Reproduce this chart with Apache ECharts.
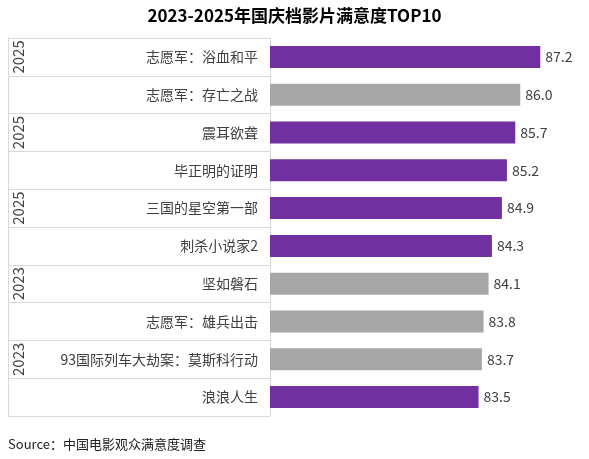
<!DOCTYPE html><html><head><meta charset="utf-8"><script src="https://cdn.jsdelivr.net/npm/echarts@6/dist/echarts.min.js"></script></head><body style="margin:0"><div id="c" style="width:589px;height:459px"></div><script>
const names=['志愿军：浴血和平','志愿军：存亡之战','震耳欲聋','毕正明的证明','三国的星空第一部','刺杀小说家2','坚如磐石','志愿军：雄兵出击','93国际列车大劫案：莫斯科行动','浪浪人生'];
const years=['2025','2024','2025','2025','2025','2025','2023','2023','2023','2025'];
const scores=[87.2,86.0,85.7,85.2,84.9,84.3,84.1,83.8,83.7,83.5];
const colors={'2025':'#7030a0','2024':'#a6a6a6','2023':'#a6a6a6'};
const ch=echarts.init(document.getElementById('c'));
const f='"Microsoft YaHei","Noto Sans CJK SC",sans-serif';
ch.setOption({
title:{text:'2023-2025年国庆档影片满意度TOP10',left:'center',top:2,textStyle:{fontFamily:f,fontSize:17,fontWeight:'bold',color:'#000'}},
graphic:[{type:'text',left:8,top:438,style:{text:'Source：中国电影观众满意度调查',font:'13px '+f,fill:'#222'}}],
grid:{left:270,right:2,top:38,bottom:43},
xAxis:{type:'value',min:71,max:90,show:false},
yAxis:[{type:'category',data:names,inverse:true,axisLine:{show:true,lineStyle:{color:'#d9d9d9'}},axisTick:{show:true,interval:0,length:262,lineStyle:{color:'#d9d9d9'}},axisLabel:{fontFamily:f,fontSize:14,color:'#404040',margin:12}},
{type:'category',data:years,inverse:true,position:'left',offset:262,axisLine:{show:true,lineStyle:{color:'#d9d9d9'}},axisTick:{show:false},axisLabel:{rotate:90,fontFamily:f,fontSize:15,color:'#404040',margin:-18}}],
series:[{type:'bar',data:scores.map((v,i)=>({value:v,itemStyle:{color:colors[years[i]]}})),barWidth:22,label:{show:true,position:'right',fontFamily:f,fontSize:14,color:'#404040',formatter:p=>p.value.toFixed(1)}}]
});
</script></body></html>
